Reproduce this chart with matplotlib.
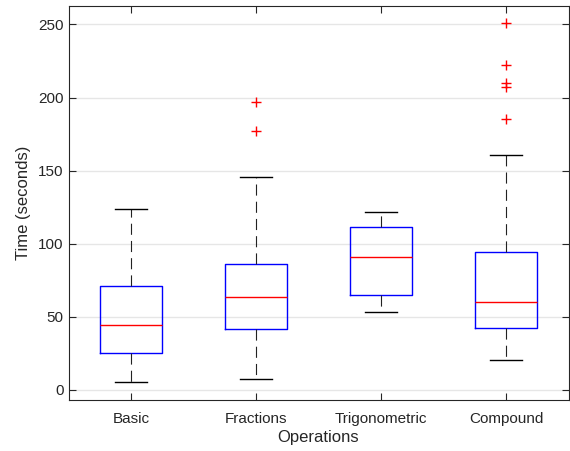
import numpy as np
import matplotlib.pyplot as plt

plt.rcParams['font.family'] = ['Liberation Sans', 'DejaVu Sans']

# box plot statistics
categories = ['Basic', 'Fractions', 'Trigonometric', 'Compound']
whisker_low = [5.1, 7.1, 53.2, 20.1]
q1 = [24.9, 41.4, 64.7, 42.0]
medians = [44.1, 63.5, 91.1, 60.1]
q3 = [70.8, 86.1, 111.2, 94.1]
whisker_high = [124.0, 145.9, 121.9, 161.0]
outliers = [[], [196.8, 177.0], [], [251.0, 222.0, 209.9, 207.0, 185.4]]

stats = []
for i, name in enumerate(categories):
    stats.append({
        'label': name, 'whislo': whisker_low[i], 'q1': q1[i], 'med': medians[i],
        'q3': q3[i], 'whishi': whisker_high[i], 'fliers': outliers[i],
    })

fig = plt.figure(figsize=(5.7, 4.51), dpi=100)
ax = fig.add_axes([68.5 / 570, 51 / 451, 500 / 570, 394.5 / 451])

ax.bxp(stats, positions=np.arange(1, 5), widths=0.5,
       boxprops=dict(color='blue', linewidth=1.0),
       medianprops=dict(color='red', linewidth=1.0),
       whiskerprops=dict(color='#222222', linestyle=(0, (10, 5.5)), linewidth=0.8),
       capprops=dict(color='black', linewidth=1.0),
       flierprops=dict(marker='+', markeredgecolor='red', markeredgewidth=1.0,
                       markersize=6.5, linestyle='none'),
       capwidths=0.25)

ax.set_xlim(0.5, 4.5)
ax.set_ylim(-7, 263)
ax.set_yticks(np.arange(0, 251, 50))
ax.set_xticks(np.arange(1, 5))
ax.set_xticklabels(categories)
ax.grid(axis='y', color='#e6e6e6', linewidth=1.0)
ax.set_axisbelow(True)
ax.tick_params(direction='in', top=True, right=True, labelsize=11, colors='#262626',
               length=5)
ax.tick_params(axis='x', pad=8.5)
for s in ax.spines.values():
    s.set_color('#262626')
    s.set_linewidth(0.8)
ax.set_xlabel('Operations', fontsize=12, color='#262626', labelpad=3)
ax.set_ylabel('Time (seconds)', fontsize=12, color='#262626', labelpad=5)

fig.savefig('out.png', dpi=100)
